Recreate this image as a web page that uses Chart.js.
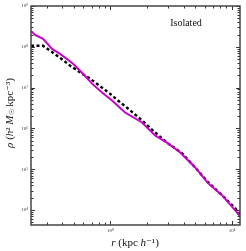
<!DOCTYPE html>
<html><head><meta charset="utf-8">
<script src="https://cdn.jsdelivr.net/npm/chart.js@4/dist/chart.umd.min.js"></script>
<style>html,body{margin:0;padding:0;background:#fff;overflow:hidden}</style>
</head><body>
<canvas id="c" width="246" height="251" style="display:block;width:246px;height:251px"></canvas>
<script>
// ---- data ----
const rMagenta   = [0.222,0.240,0.279,0.331,0.385,0.493,0.584,0.706,0.853,1.03,1.32,1.82,2.33,2.98,3.73,4.96,6.35,8.28,10.59,11.86];
const rhoMagenta = [2.45e8,1.96e8,1.57e8,8.9e7,6.7e7,3.85e7,2.32e7,1.25e7,7.55e6,4.82e6,2.45e6,1.40e6,6.75e5,4.3e5,2.6e5,1.12e5,4.56e4,2.32e4,1.0e4,6.76e3];
const rBlack     = [0.222,0.279,0.319,0.385,0.466,0.584,0.680,0.853,0.99,1.155,1.395,1.82,2.33,2.98,3.88,4.96,6.35,8.28,10.59,11.86];
const rhoBlack   = [1.06e8,1.06e8,7.98e7,5.4e7,3.44e7,2.19e7,1.66e7,1.0e7,7.14e6,4.82e6,3.08e6,1.57e6,7.98e5,4.3e5,2.46e5,1.12e5,4.82e4,2.32e4,1.12e4,7.55e3];
const xMajorTicks = [1, 10];
const xTickLabels = ['10⁰', '10¹'];
const yMajorTicks = [1e4, 1e5, 1e6, 1e7, 1e8, 1e9];
const yTickLabels = ['10⁴', '10⁵', '10⁶', '10⁷', '10⁸', '10⁹'];
const xRange = [0.222, 11.65];
const yRange = [4300, 1e9];
const annotationText = 'Isolated';

function minorTicks(min, max) {
  const out = [];
  for (let e = Math.floor(Math.log10(min)); e <= Math.ceil(Math.log10(max)); e++) {
    for (let m = 1; m <= 9; m++) {
      const v = m * Math.pow(10, e);
      if (v >= min * 0.999 && v <= max * 1.001) out.push(v);
    }
  }
  return out;
}
function labelFor(v, majors, labels) {
  for (let i = 0; i < majors.length; i++) if (Math.abs(v / majors[i] - 1) < 1e-6) return labels[i];
  return '';
}
const SERIF = '"Liberation Serif","DejaVu Serif",serif';

const framePlugin = {
  id: 'frame',
  afterDatasetsDraw(chart) {
    const ctx = chart.ctx, a = chart.chartArea;
    const xs = chart.scales.x, ys = chart.scales.y;
    ctx.save();
    ctx.strokeStyle = '#333';
    ctx.lineWidth = 1;
    // inward ticks on all four sides
    xs.ticks.forEach(t => {
      const px = Math.round(xs.getPixelForValue(t.value)) + 0.5;
      const len = labelFor(t.value, xMajorTicks, xTickLabels) ? 4 : 2.5;
      ctx.beginPath();
      ctx.moveTo(px, a.bottom); ctx.lineTo(px, a.bottom - len);
      ctx.moveTo(px, a.top); ctx.lineTo(px, a.top + len);
      ctx.stroke();
    });
    ys.ticks.forEach(t => {
      const py = Math.round(ys.getPixelForValue(t.value)) + 0.5;
      const len = labelFor(t.value, yMajorTicks, yTickLabels) ? 4 : 2.5;
      ctx.beginPath();
      ctx.moveTo(a.left, py); ctx.lineTo(a.left + len, py);
      ctx.moveTo(a.right, py); ctx.lineTo(a.right - len, py);
      ctx.stroke();
    });
    ctx.lineWidth = 1.5;
    ctx.strokeStyle = '#444';
    ctx.strokeRect(a.left, a.top, a.right - a.left, a.bottom - a.top);
    // annotation
    ctx.fillStyle = '#111';
    ctx.font = '10px ' + SERIF;
    ctx.textAlign = 'center';
    ctx.textBaseline = 'middle';
    ctx.fillText(annotationText, 186, 23);
    ctx.restore();
  },
  afterDraw(chart) {
    const ctx = chart.ctx;
    function drawRich(parts, size) {
      // measure
      let w = 0;
      parts.forEach(p => { ctx.font = (p.it ? 'italic ' : '') + (p.sz || size) + 'px ' + SERIF; p.w = ctx.measureText(p.t).width; w += p.w; });
      let x = -w / 2;
      parts.forEach(p => {
        ctx.font = (p.it ? 'italic ' : '') + (p.sz || size) + 'px ' + SERIF;
        ctx.fillText(p.t, x, p.dy || 0);
        x += p.w;
      });
    }
    ctx.save();
    ctx.fillStyle = '#111';
    ctx.textBaseline = 'middle';
    ctx.textAlign = 'left';
    // x title
    ctx.translate(135, 243);
    drawRich([{t:'r', it:true}, {t:' (kpc '}, {t:'h', it:true}, {t:'⁻¹)'}], 11);
    ctx.restore();
    ctx.save();
    ctx.fillStyle = '#111';
    ctx.textBaseline = 'middle';
    ctx.textAlign = 'left';
    ctx.translate(10, 113);
    ctx.rotate(-Math.PI / 2);
    drawRich([{t:'ρ', it:true}, {t:' ('}, {t:'h', it:true}, {t:'² '}, {t:'M', it:true}, {t:'☉', sz:7, dy:2}, {t:' kpc⁻³)'}], 11);
    ctx.restore();
  }
};

const toXY = (xs, ys) => xs.map((x, i) => ({x, y: ys[i]}));

new Chart(document.getElementById('c'), {
  type: 'line',
  data: {
    datasets: [
      { data: toXY(rMagenta, rhoMagenta), borderColor: '#cc00cc', borderWidth: 2, pointRadius: 0, tension: 0, fill: false },
      { data: toXY(rBlack, rhoBlack), borderColor: '#000', borderWidth: 2.4, borderDash: [3, 2.5], pointRadius: 0, tension: 0, fill: false }
    ]
  },
  options: {
    responsive: false,
    animation: false,
    devicePixelRatio: 1,
    layout: { padding: { top: 5, right: 6, left: 0, bottom: 0 } },
    plugins: { legend: { display: false }, tooltip: { enabled: false } },
    scales: {
      x: {
        type: 'logarithmic', min: xRange[0], max: xRange[1],
        afterBuildTicks: s => { s.ticks = minorTicks(xRange[0], xRange[1]).map(v => ({value: v})); },
        afterFit: s => { s.height = 26; },
        grid: { display: false, drawTicks: false },
        border: { display: false },
        ticks: { autoSkip: false, maxRotation: 0, padding: 3, color: '#333',
          font: { size: 5, family: SERIF },
          callback: v => labelFor(v, xMajorTicks, xTickLabels) }
      },
      y: {
        type: 'logarithmic', min: yRange[0], max: yRange[1],
        afterBuildTicks: s => { s.ticks = minorTicks(yRange[0], yRange[1]).map(v => ({value: v})); },
        afterFit: s => { s.width = 31; },
        grid: { display: false, drawTicks: false },
        border: { display: false },
        ticks: { autoSkip: false, padding: 3, color: '#333',
          font: { size: 5, family: SERIF },
          callback: v => labelFor(v, yMajorTicks, yTickLabels) }
      }
    }
  },
  plugins: [framePlugin]
});
</script>
</body></html>
